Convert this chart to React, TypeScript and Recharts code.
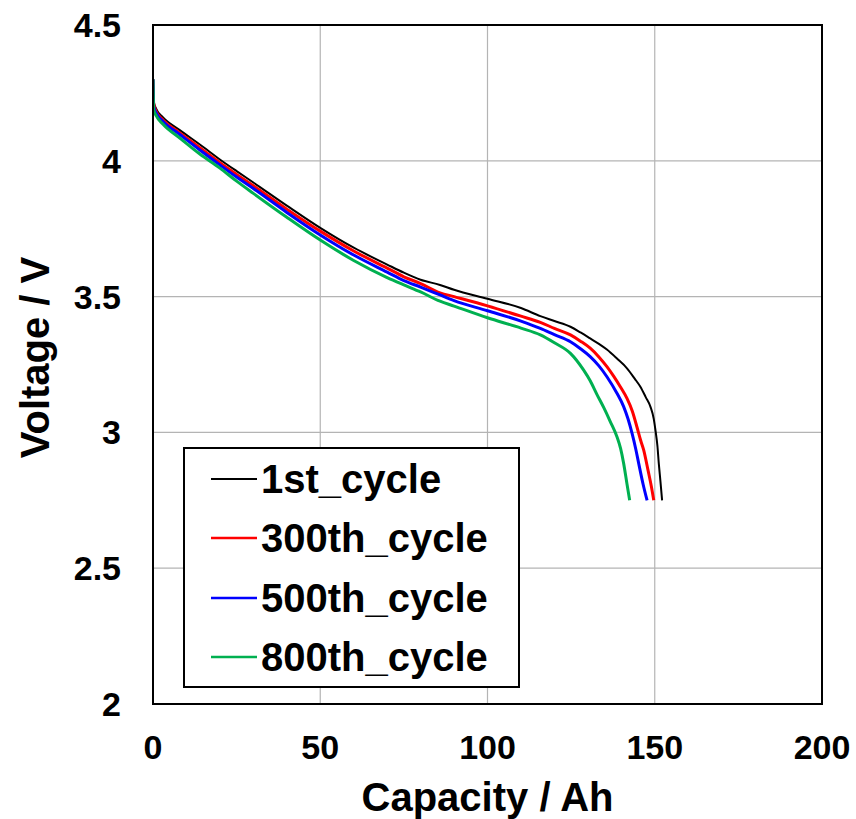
import {
  LineChart,
  Line,
  XAxis,
  YAxis,
  CartesianGrid,
  ReferenceArea,
  Label
} from 'recharts'

// capacity (Ah) / voltage (V)
const cap1st = [0, 0.2, 1, 3, 8, 14, 20, 25, 30, 40, 50, 60, 70, 75, 80, 85.8, 90, 100, 110, 115.8, 120, 124.8, 127.8, 130.7, 133.3, 135.7, 138.7, 141.7, 144, 145.7, 147.3, 148.7, 149.7, 150.2, 150.8, 151.2, 151.7, 152.2]
const volt1st = [4.3, 4.22, 4.19, 4.16, 4.113, 4.06, 4.005, 3.962, 3.92, 3.835, 3.753, 3.68, 3.618, 3.588, 3.562, 3.543, 3.525, 3.492, 3.458, 3.428, 3.41, 3.389, 3.368, 3.346, 3.326, 3.305, 3.272, 3.236, 3.198, 3.168, 3.13, 3.095, 3.05, 3.009, 2.95, 2.887, 2.82, 2.75]

const cap300 = [0, 0.2, 1, 3, 8, 14, 20, 25, 30, 40, 50, 60, 70, 75, 80, 85.8, 90, 100, 110, 115.8, 120, 124.8, 127.8, 130.7, 133.3, 135.7, 137.7, 139.7, 141.7, 143.3, 144.7, 145.8, 146.7, 148, 149, 149.7]
const volt300 = [4.3, 4.21, 4.18, 4.15, 4.103, 4.048, 3.993, 3.95, 3.908, 3.822, 3.741, 3.668, 3.605, 3.573, 3.548, 3.514, 3.5, 3.466, 3.428, 3.405, 3.383, 3.359, 3.336, 3.31, 3.278, 3.242, 3.207, 3.168, 3.125, 3.078, 3.019, 2.97, 2.935, 2.86, 2.8, 2.75]

const cap500 = [0, 0.2, 1, 3, 8, 14, 20, 25, 30, 40, 50, 60, 70, 75, 80, 85.8, 90, 100, 110, 115.8, 120, 124.8, 127.8, 130.7, 133.3, 135.7, 138.7, 140.7, 142, 143.2, 144.3, 145.2, 146.5, 147.7]
const volt500 = [4.3, 4.2, 4.175, 4.145, 4.097, 4.04, 3.985, 3.94, 3.898, 3.81, 3.727, 3.653, 3.59, 3.559, 3.535, 3.506, 3.485, 3.448, 3.41, 3.383, 3.36, 3.334, 3.308, 3.279, 3.245, 3.205, 3.144, 3.095, 3.05, 2.997, 2.94, 2.886, 2.81, 2.75]

const cap800 = [0, 0.2, 1, 3, 8, 14, 20, 25, 30, 40, 50, 60, 70, 75, 80, 85.8, 90, 100, 110, 115.8, 120, 124.8, 128.7, 130.7, 132.7, 134.8, 136.7, 138.7, 139.8, 140.7, 141.7, 142.5]
const volt800 = [4.3, 4.19, 4.165, 4.135, 4.084, 4.025, 3.973, 3.925, 3.88, 3.792, 3.708, 3.633, 3.57, 3.543, 3.517, 3.483, 3.465, 3.422, 3.384, 3.359, 3.33, 3.291, 3.23, 3.19, 3.14, 3.09, 3.04, 2.984, 2.94, 2.886, 2.81, 2.75]

const xTicks = [0, 50, 100, 150, 200]
const yTicks = [2, 2.5, 3, 3.5, 4, 4.5]

const toPoints = (caps: number[], volts: number[]) =>
  caps.map((c, i) => ({ cap: c, v: volts[i] }))

const series = [
  { name: '1st_cycle', data: toPoints(cap1st, volt1st), color: '#000000', width: 2, legendWidth: 2 },
  { name: '300th_cycle', data: toPoints(cap300, volt300), color: '#ff0000', width: 3, legendWidth: 2.5 },
  { name: '500th_cycle', data: toPoints(cap500, volt500), color: '#0000ff', width: 3, legendWidth: 2.5 },
  { name: '800th_cycle', data: toPoints(cap800, volt800), color: '#00b050', width: 3, legendWidth: 2.5 },
]

const FONT = '"Liberation Sans", Arial, sans-serif'

// legend box sits inside the plot, lower left
function LegendBox() {
  return (
    <div
      style={{
        position: 'absolute',
        left: 183,
        top: 447,
        boxSizing: 'border-box',
        width: 337,
        height: 241,
        border: '2px solid #000',
        background: '#fff',
        padding: '0 0 0 24px',
        fontFamily: FONT,
        fontWeight: 'bold',
        fontSize: 40,
        color: '#000',
      }}
    >
      {series.map((s) => (
        <div key={s.name} style={{ display: 'flex', alignItems: 'center', height: 59.5 }}>
          <svg width={52} height={8}>
            <line x1={2} y1={4} x2={48} y2={4} stroke={s.color} strokeWidth={s.legendWidth} />
          </svg>
          <span style={{ lineHeight: 1 }}>{s.name}</span>
        </div>
      ))}
    </div>
  )
}

function YTitle(props: any) {
  const vb = props.viewBox
  const cy = vb.y + vb.height / 2 - 7
  return (
    <text
      x={35}
      y={cy}
      transform={`rotate(-90, 35, ${cy})`}
      textAnchor="middle"
      dominantBaseline="central"
      fontFamily={FONT}
      fontWeight="bold"
      fontSize={40}
      fill="#000"
    >
      Voltage / V
    </text>
  )
}

export default function App() {
  return (
    <div style={{ position: 'absolute', left: 0, top: 0, width: 856, height: 819, background: '#fff' }}>
      <LineChart
        width={856}
        height={819}
        margin={{ top: 25, right: 34, bottom: 0, left: 0 }}
      >
        <CartesianGrid stroke="#b4b4b4" strokeWidth={1.2} />
        <ReferenceArea
          x1={0}
          x2={200}
          y1={2}
          y2={4.5}
          fill="none"
          stroke="#000"
          strokeWidth={2}
          ifOverflow="visible"
        />
        <XAxis
          dataKey="cap"
          type="number"
          domain={[0, 200]}
          ticks={xTicks}
          allowDataOverflow
          height={115}
          tickLine={false}
          tickSize={6}
          tickMargin={25}
          axisLine={{ stroke: '#000', strokeWidth: 2 }}
          tick={{ fill: '#000', fontSize: 34, fontWeight: 'bold', fontFamily: FONT }}
        >
          <Label
            value="Capacity / Ah"
            position="insideBottom"
            offset={8}
            fill="#000"
            fontSize={40}
            fontWeight="bold"
            fontFamily={FONT}
          />
        </XAxis>
        <YAxis
          type="number"
          domain={[2, 4.5]}
          ticks={yTicks}
          allowDataOverflow
          width={153}
          tickLine={false}
          tickSize={6}
          tickMargin={26}
          axisLine={{ stroke: '#000', strokeWidth: 2 }}
          tick={{ fill: '#000', fontSize: 34, fontWeight: 'bold', fontFamily: FONT }}
        >
          <Label content={<YTitle />} />
        </YAxis>
        {series.map((s) => (
          <Line
            key={s.name}
            name={s.name}
            data={s.data}
            dataKey="v"
            type="monotone"
            stroke={s.color}
            strokeWidth={s.width}
            dot={false}
            activeDot={false}
            isAnimationActive={false}
          />
        ))}
      </LineChart>
      <LegendBox />
    </div>
  )
}
